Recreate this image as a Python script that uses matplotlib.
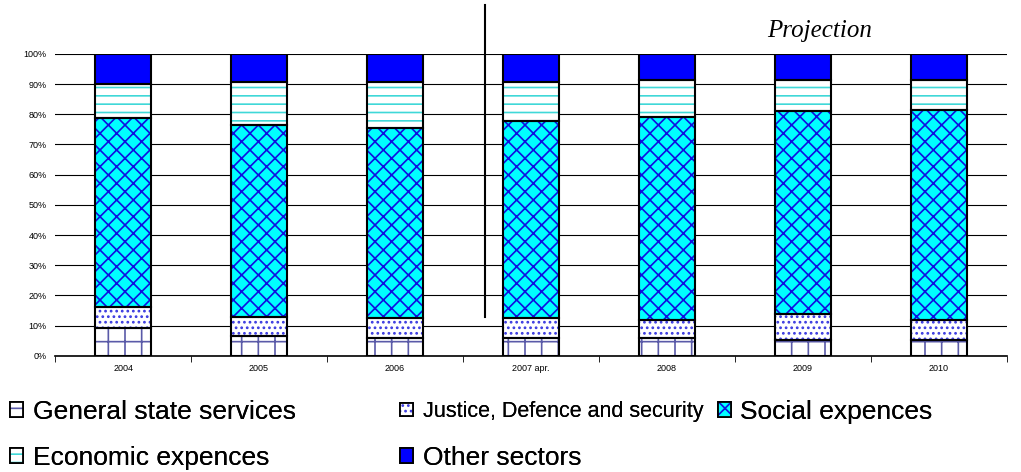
import numpy as np
import matplotlib
matplotlib.use('Agg')
import matplotlib.pyplot as plt
from matplotlib.patches import Patch
from matplotlib.ticker import PercentFormatter

years = ['2004', '2005', '2006', '2007 apr.', '2008', '2009', '2010']
general = [9.3, 6.6, 6.0, 6.0, 6.0, 5.3, 5.3]
justice = [6.9, 6.4, 6.6, 6.6, 6.0, 8.7, 6.7]
social = [62.6, 63.5, 62.9, 65.2, 67.0, 67.0, 69.5]
economic = [11.2, 14.2, 15.2, 12.9, 12.4, 10.4, 9.9]
other = [10.0, 9.3, 9.3, 9.3, 8.6, 8.6, 8.6]

names = ['General state services', 'Justice, Defence and security', 'Social expences',
         'Economic expences', 'Other sectors']
series = [general, justice, social, economic, other]
# face colour, hatch, hatch colour
styles = [('white', '+', '#5a5aa8'),
          ('white', '...', '#3a3ae0'),
          ('#00ffff', 'xx', '#1010e0'),
          ('white', '--', '#40d8d8'),
          ('#0000ff', '', '#0000ff')]

plt.rcParams['font.family'] = ['Liberation Sans', 'DejaVu Sans']
plt.rcParams['hatch.linewidth'] = 1.2

fig = plt.figure(figsize=(10.21, 4.72), dpi=100)
ax = fig.add_axes([0.054, 0.246, 0.932, 0.64])

x = np.arange(len(years))
w = 0.41
bottom = np.zeros(len(years))
handles = []
for vals, (fc, hatch, hc), name in zip(series, styles, names):
    v = np.array(vals) / 100
    ax.bar(x, v, w, bottom=bottom, color=fc, hatch=hatch, edgecolor=hc, linewidth=0, zorder=2)
    ax.bar(x, v, w, bottom=bottom, facecolor='none', edgecolor='black', linewidth=1.5, zorder=3)
    bottom += v
    handles.append((Patch(facecolor=fc, hatch=hatch, edgecolor=hc, linewidth=0),
                    Patch(facecolor='none', edgecolor='black', linewidth=1.3)))

ax.set_xlim(-0.5, len(years) - 0.5)
ax.set_ylim(0, 1.0)
ax.yaxis.set_major_formatter(PercentFormatter(1.0, decimals=0))
ax.set_yticks(np.arange(0, 1.01, 0.1))
ax.yaxis.grid(True, color='black', linewidth=0.8, zorder=0)
ax.set_axisbelow(True)
ax.set_xticks(x)
ax.set_xticklabels(years)
ax.set_xticks(np.arange(-0.5, len(years)), minor=True)
ax.tick_params(axis='x', which='major', length=0, labelsize=6.5, pad=6)
ax.tick_params(axis='x', which='minor', length=4, color='black')
ax.tick_params(axis='y', length=0, labelsize=6.5, pad=6)
for s in ['left', 'right', 'top']:
    ax.spines[s].set_visible(False)
ax.spines['bottom'].set_linewidth(1.2)

# separator between actual and projected years
ax.plot([2.66, 2.66], [0.13, 1.16], color='black', linewidth=1.5, clip_on=False)
ax.text(5.12, 1.075, 'Projection', fontsize=18, style='italic', family='Liberation Serif',
        ha='center', va='center')

# legend entries placed one by one, like the original's three-column layout
# (index, x, y, font size)
places = [(0, 0.010, 0.128, 19), (1, 0.392, 0.128, 15.5), (2, 0.703, 0.128, 19),
          (3, 0.010, 0.030, 19), (4, 0.392, 0.030, 19)]
for i, xpos, ypos, fs in places:
    leg = fig.legend([handles[i]], [names[i]], loc='center left', bbox_to_anchor=(xpos, ypos),
                     frameon=False, fontsize=fs, handlelength=9.5 / fs, handleheight=9.5 / fs,
                     handletextpad=6.6 / fs, borderaxespad=0, borderpad=0)
    fig.add_artist(leg)

fig.savefig('out.png', dpi=100)
